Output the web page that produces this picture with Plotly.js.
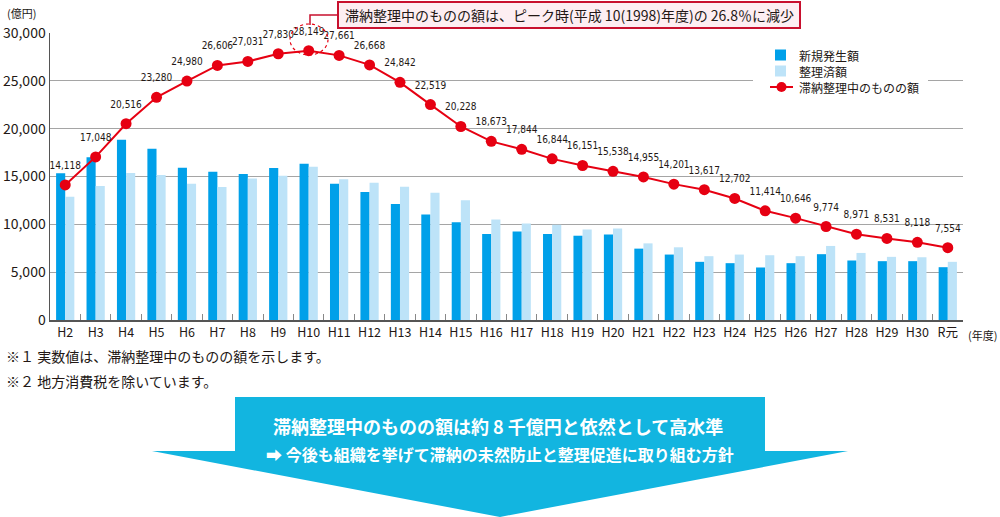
<!DOCTYPE html>
<html>
<head>
<meta charset="utf-8">
<script src="https://cdn.plot.ly/plotly-3.0.1.min.js"></script>
<style>
html,body{margin:0;padding:0;background:#fff;}
#chart{width:1000px;height:517px;}
</style>
</head>
<body>
<div id="chart"></div>
<script>
// ---- data ----
var categories = ["H2","H3","H4","H5","H6","H7","H8","H9","H10","H11","H12","H13","H14","H15","H16","H17","H18","H19","H20","H21","H22","H23","H24","H25","H26","H27","H28","H29","H30","R元"];
var newAmounts = [15330,17000,18850,17900,15920,15500,15260,15890,16340,14240,13370,12130,11020,10220,8980,9260,8980,8810,8940,7460,6840,6080,5940,5490,5940,6880,6220,6150,6150,5520];
var clearedAmounts = [12890,14000,15360,15150,14250,13900,14800,15090,16030,14720,14340,13930,13300,12510,10500,10090,9950,9460,9570,8010,7600,6670,6840,6770,6670,7740,7010,6600,6560,6080];
var backlog = [14118,17048,20516,23280,24980,26606,27031,27830,28149,27661,26668,24842,22519,20228,18673,17844,16844,16151,15538,14955,14201,13617,12702,11414,10646,9774,8971,8531,8118,7554];
var seriesNames = ["新規発生額","整理済額","滞納整理中のものの額"];
var yTicks = [0,5000,10000,15000,20000,25000,30000];

// ---- layout helpers (pixel -> paper) ----
var L = 50, T = 33, W = 913, H = 287;
function px(x){ return (x - L) / W; }
function py(y){ return (T + H - y) / H; }

var JP = '"Noto Sans CJK JP", "Noto Sans", sans-serif';
var DARK = '#00a0e9', LIGHT = '#bde3f8', RED = '#e60012';

var traces = [
  {type:'bar', name:seriesNames[0], x:categories, y:newAmounts,
   marker:{color:DARK}, hoverinfo:'skip'},
  {type:'bar', name:seriesNames[1], x:categories, y:clearedAmounts,
   marker:{color:LIGHT}, hoverinfo:'skip'},
  {type:'scatter', mode:'lines+markers', name:seriesNames[2], x:categories, y:backlog,
   line:{color:RED, width:2}, marker:{color:RED, size:11}, hoverinfo:'skip'},
  {type:'scatter', mode:'markers+text', name:'labels', x:categories, y:backlog, showlegend:false,
   marker:{size:20, opacity:0}, texttemplate:'%{y:,}', textposition:'top center',
   textfont:{family:'"DejaVu Sans Condensed", "Liberation Sans Narrow", sans-serif', size:10, color:'#231815', stretch:'condensed'},
   cliponaxis:false, hoverinfo:'skip'}
];

var arrowPath = 'M '+px(235)+','+py(397)+' L '+px(765)+','+py(397)+' L '+px(765)+','+py(451)+
  ' L '+px(848)+','+py(451)+' L '+px(500)+','+py(517)+' L '+px(152)+','+py(451)+
  ' L '+px(235)+','+py(451)+' Z';

var shapes = [
  {type:'path', xref:'paper', yref:'paper', path:arrowPath, fillcolor:'#12b5e0', line:{width:0}, layer:'below'},
  {type:'rect', xref:'paper', yref:'paper', x0:px(338), x1:px(800), y0:py(28), y1:py(2),
   fillcolor:'#fdeef2', line:{color:'#c8102e', width:2}},
  {type:'path', xref:'paper', yref:'paper',
   path:'M '+px(338)+','+py(15)+' L '+px(310)+','+py(15)+' L '+px(310)+','+py(25),
   line:{color:'#c8102e', width:1.5}},
  {type:'circle', xref:'paper', yref:'paper', x0:px(290), x1:px(328), y0:py(55), y1:py(24),
   line:{color:RED, width:1.2, dash:'dot'}},
  // legend
  {type:'rect', xref:'paper', yref:'paper', x0:px(753), x1:px(928), y0:py(95), y1:py(45),
   fillcolor:'#fff', line:{width:0}},
  {type:'rect', xref:'paper', yref:'paper', x0:px(775), x1:px(786), y0:py(60.5), y1:py(49.5),
   fillcolor:DARK, line:{width:0}},
  {type:'rect', xref:'paper', yref:'paper', x0:px(775), x1:px(786), y0:py(76.5), y1:py(65.5),
   fillcolor:LIGHT, line:{width:0}},
  {type:'line', xref:'paper', yref:'paper', x0:px(770), x1:px(793), y0:py(87), y1:py(87),
   line:{color:RED, width:2}},
  {type:'circle', xref:'paper', yref:'paper', x0:px(776.5), x1:px(786.5), y0:py(92), y1:py(82),
   fillcolor:RED, line:{width:0}}
];

function note(x, y, text, size, anchor, color){
  return {xref:'paper', yref:'paper', x:px(x), y:py(y), xanchor:anchor||'left', yanchor:'middle',
          showarrow:false, text:text, font:{size:size, family:JP, color:color||'#231815'}};
}

var layout = {
  width:1000, height:517,
  margin:{l:L, r:1000-L-W, t:T, b:517-T-H, pad:0},
  paper_bgcolor:'#fff', plot_bgcolor:'#fff',
  font:{family:JP, color:'#231815'},
  barmode:'group', bargap:0.4, bargroupgap:0,
  showlegend:false,
  xaxis:{type:'category', range:[-0.5,29.5], showline:true, linecolor:'#555', linewidth:1.5,
         ticks:'inside', tickson:'boundaries', ticklen:6, tickcolor:'#888', tickangle:0,
         tickfont:{size:12.5, family:JP}, showgrid:false, fixedrange:true},
  yaxis:{range:[0,30000], tickvals:yTicks, tickformat:',', showline:true, linecolor:'#555', linewidth:1.5,
         gridcolor:'#a5a5a5', gridwidth:1, zeroline:false, ticks:'', tickfont:{size:14, family:JP},
         fixedrange:true},
  shapes:shapes,
  annotations:[
    note(569, 15, '滞納整理中のものの額は、ピーク時(平成 10(1998)年度)の 26.8％に減少', 14, 'center'),
    note(5, 13, '(億円)', 11),
    note(966, 335, '(年度)', 11),
    note(4, 356, '※１ 実数値は、滞納整理中のものの額を示します。', 14),
    note(4, 381, '※２ 地方消費税を除いています。', 14),
    note(797, 55, seriesNames[0], 12),
    note(797, 71, seriesNames[1], 12),
    note(797, 87, seriesNames[2], 12),
    note(498, 426, '<b>滞納整理中のものの額は約 8 千億円と依然として高水準</b>', 18, 'center', '#fff'),
    note(500, 454, '<b>➡ 今後も組織を挙げて滞納の未然防止と整理促進に取り組む方針</b>', 16, 'center', '#fff')
  ]
};

Plotly.newPlot('chart', traces, layout, {displayModeBar:false, staticPlot:true});
</script>
</body>
</html>
